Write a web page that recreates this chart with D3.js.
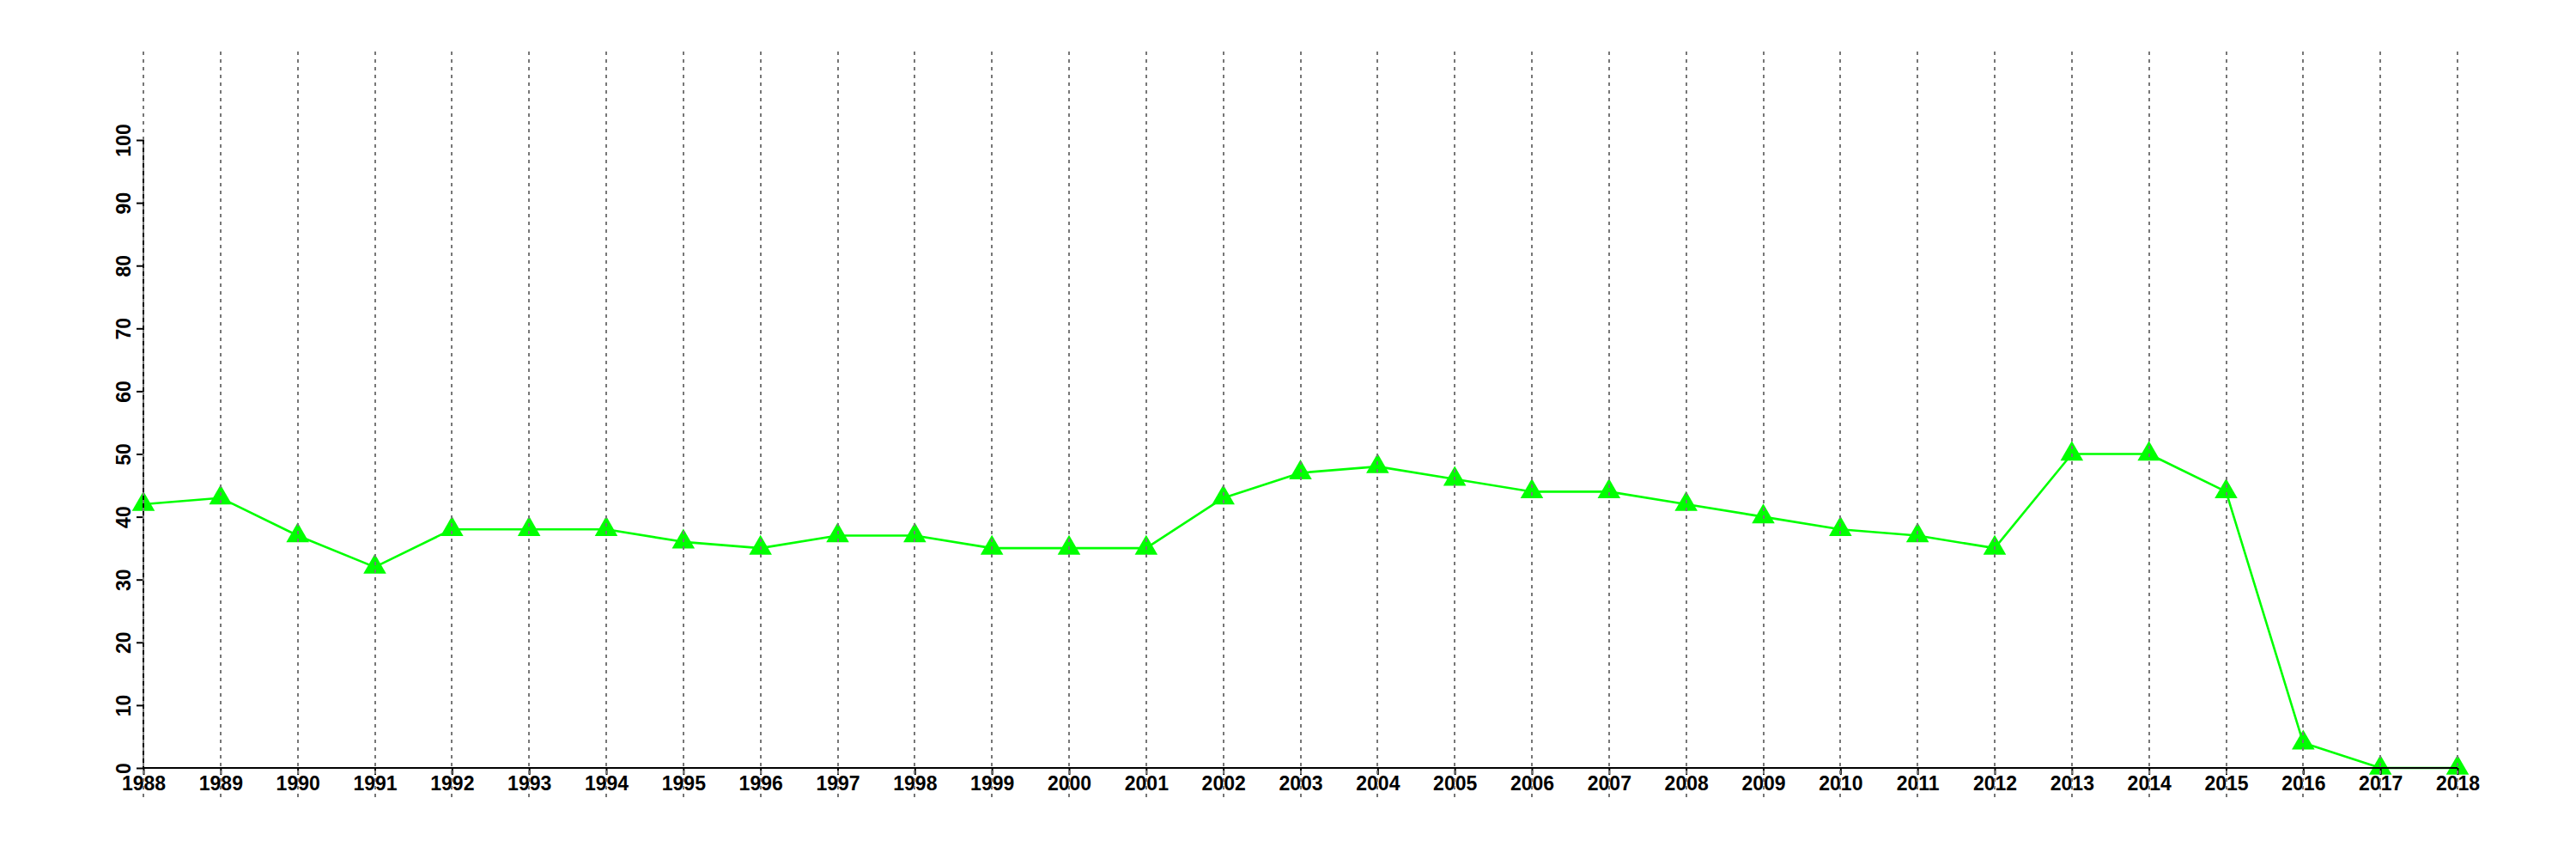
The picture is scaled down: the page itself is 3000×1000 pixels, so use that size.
<!DOCTYPE html>
<html>
<head>
<meta charset="utf-8">
<script src="https://cdn.jsdelivr.net/npm/d3@7"></script>
<style>
  html, body { margin: 0; padding: 0; background: #ffffff; }
  svg { display: block; }
  text { font-family: "Liberation Sans", Arial, Helvetica, sans-serif; font-weight: bold; }
</style>
</head>
<body>
<script>
const years = [1988, 1989, 1990, 1991, 1992, 1993, 1994, 1995, 1996, 1997,
               1998, 1999, 2000, 2001, 2002, 2003, 2004, 2005, 2006, 2007,
               2008, 2009, 2010, 2011, 2012, 2013, 2014, 2015, 2016, 2017, 2018];
const values = [42, 43, 37, 32, 38, 38, 38, 36, 35, 37,
                37, 35, 35, 35, 43, 47, 48, 46, 44, 44,
                42, 40, 38, 37, 35, 50, 50, 44, 4, 0, 0];
const yTicks = [0, 10, 20, 30, 40, 50, 60, 70, 80, 90, 100];

const W = 3000, H = 1000;
const svg = d3.select("body").append("svg").attr("width", W).attr("height", H);

const x = d3.scaleLinear().domain([1988, 2018]).range([167, 2862]);
const y = d3.scaleLinear().domain([0, 100]).range([894, 163]);

const green = "#00ff00";

// line
svg.append("path")
  .datum(years.map((yr, i) => [yr, values[i]]))
  .attr("fill", "none")
  .attr("stroke", green)
  .attr("stroke-width", 2.6)
  .attr("stroke-linejoin", "round")
  .attr("d", d3.line().x(d => x(d[0])).y(d => y(d[1])));

// points
svg.selectAll("path.pt")
  .data(years.map((yr, i) => [yr, values[i]]))
  .join("path")
  .attr("class", "pt")
  .attr("transform", d => `translate(${x(d[0])},${y(d[1])})`)
  .attr("d", d3.symbol(d3.symbolTriangle, 306))
  .attr("fill", green);

// y axis
const yAxis = d3.axisLeft(y).tickValues(yTicks).tickSize(8).tickPadding(0).tickFormat(d3.format("d"));
const gy = svg.append("g").attr("transform", `translate(${x(1988)},0)`).call(yAxis);
gy.select(".domain").attr("stroke", "#000").attr("stroke-width", 2)
  .attr("d", `M0,${y(0)}V${y(100)}`);
gy.selectAll(".tick line").attr("stroke", "#000").attr("stroke-width", 2);
gy.selectAll(".tick text")
  .attr("x", null).attr("dy", null)
  .attr("transform", "translate(-15,0) rotate(-90)")
  .attr("text-anchor", "middle")
  .attr("font-size", 23)
  .attr("fill", "#000");

// x axis
const xAxis = d3.axisBottom(x).tickValues(years).tickSize(8).tickPadding(0).tickFormat(d3.format("d"));
const gx = svg.append("g").attr("transform", `translate(0,${y(0)})`).call(xAxis);
gx.select(".domain").attr("stroke", "#000").attr("stroke-width", 2)
  .attr("d", `M${x(1988)},0H${x(2018)}`);
gx.selectAll(".tick line").attr("stroke", "#000").attr("stroke-width", 2);
gx.selectAll(".tick text")
  .attr("y", 26).attr("dy", null)
  .attr("font-size", 23)
  .attr("fill", "#000");

// vertical dotted grid (drawn on top)
svg.append("g").selectAll("line")
  .data(years)
  .join("line")
  .attr("x1", d => Math.round(x(d))).attr("x2", d => Math.round(x(d)))
  .attr("y1", 60).attr("y2", 929)
  .attr("stroke", "#777777")
  .attr("stroke-width", 2)
  .attr("stroke-dasharray", "4,5");
</script>
</body>
</html>
